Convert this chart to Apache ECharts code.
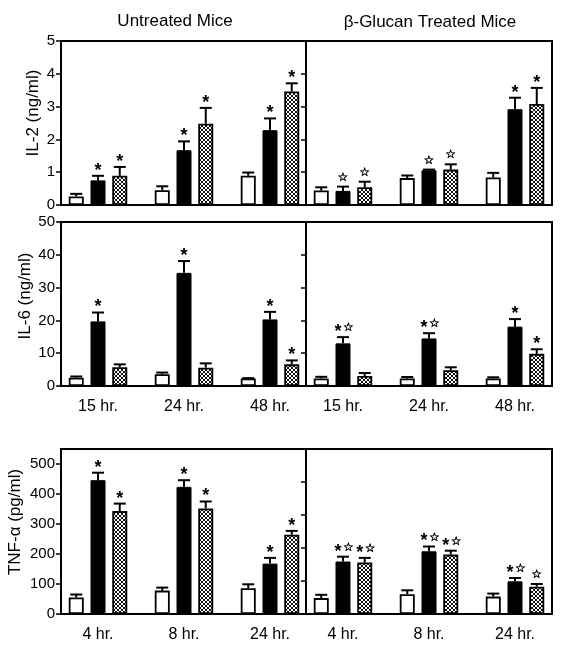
<!DOCTYPE html>
<html><head><meta charset="utf-8">
<script src="https://cdn.jsdelivr.net/npm/echarts@6/dist/echarts.min.js"></script>
<style>html,body{margin:0;padding:0;background:#fff}#c{width:564px;height:652px}</style>
</head><body><div id="c"></div>
<script>
const FONT = '"Liberation Sans", Arial, Helvetica, sans-serif';

// ---- categories & tick labels ----
const timesIL = ['15 hr.', '24 hr.', '48 hr.'];
const timesTNF = ['4 hr.', '8 hr.', '24 hr.'];
const il2Ticks = [0, 1, 2, 3, 4, 5];
const il6Ticks = [0, 10, 20, 30, 40, 50];
const tnfTicks = [0, 100, 200, 300, 400, 500];
const tnfRightTicks = [110, 220, 330, 440];
const panelTitles = ['Untreated Mice', 'β-Glucan Treated Mice'];

// ---- IL-2 (ng/ml) ----
const il2UntreatedWhite = [0.26, 0.45, 0.89];
const il2UntreatedWhiteErr = [0.08, 0.12, 0.10];
const il2UntreatedBlack = [0.75, 1.67, 2.28];
const il2UntreatedBlackErr = [0.14, 0.27, 0.36];
const il2UntreatedHatch = [0.89, 2.48, 3.46];
const il2UntreatedHatchErr = [0.27, 0.48, 0.25];
const il2GlucanWhite = [0.44, 0.82, 0.84];
const il2GlucanWhiteErr = [0.10, 0.08, 0.14];
const il2GlucanBlack = [0.43, 1.06, 2.92];
const il2GlucanBlackErr = [0.13, 0.02, 0.35];
const il2GlucanHatch = [0.54, 1.08, 3.08];
const il2GlucanHatchErr = [0.17, 0.16, 0.49];

// ---- IL-6 (ng/ml) ----
const il6UntreatedWhite = [2.5, 3.6, 2.3];
const il6UntreatedWhiteErr = [0.4, 0.5, 0.1];
const il6UntreatedBlack = [19.7, 34.5, 20.3];
const il6UntreatedBlackErr = [2.7, 3.6, 2.3];
const il6UntreatedHatch = [5.7, 5.6, 6.6];
const il6UntreatedHatchErr = [0.9, 1.3, 1.2];
const il6GlucanWhite = [2.3, 2.3, 2.3];
const il6GlucanWhiteErr = [0.5, 0.45, 0.35];
const il6GlucanBlack = [13.0, 14.5, 18.1];
const il6GlucanBlackErr = [1.9, 1.6, 2.3];
const il6GlucanHatch = [3.05, 4.8, 9.8];
const il6GlucanHatchErr = [0.9, 0.9, 1.4];

// ---- TNF-alpha (pg/ml) ----
const tnfUntreatedWhite = [55, 78, 86];
const tnfUntreatedWhiteErr = [10, 10, 13];
const tnfUntreatedBlack = [446, 424, 168];
const tnfUntreatedBlackErr = [25, 22, 19];
const tnfUntreatedHatch = [343, 352, 264];
const tnfUntreatedHatchErr = [25, 23, 13];
const tnfGlucanWhite = [53, 66, 58];
const tnfGlucanWhiteErr = [11, 13, 10];
const tnfGlucanBlack = [175, 209, 109];
const tnfGlucanBlackErr = [16, 16, 11];
const tnfGlucanHatch = [172, 198, 91];
const tnfGlucanHatchErr = [15, 13, 9];

// ---- significance marks ----
const il2UntreatedBlackSig = ['*', '*', '*'];
const il2UntreatedHatchSig = ['*', '*', '*'];
const il2GlucanBlackSig = ['☆', '☆', '*'];
const il2GlucanHatchSig = ['☆', '☆', '*'];
const il6UntreatedBlackSig = ['*', '*', '*'];
const il6UntreatedHatchSig = ['', '', '*'];
const il6GlucanBlackSig = ['*☆', '*☆', '*'];
const il6GlucanHatchSig = ['', '', '*'];
const tnfUntreatedBlackSig = ['*', '*', '*'];
const tnfUntreatedHatchSig = ['*', '*', '*'];
const tnfGlucanBlackSig = ['*☆', '*☆', '*☆'];
const tnfGlucanHatchSig = ['*☆', '*☆', '☆'];
const noSig = ['', '', ''];

// ---- layout (styles / positions) ----
const BAR_W = 15, BAR_GAP = 0.45;
const rows = [
  { top: 41, height: 164, max: 5, interval: 1, ticks: il2Ticks, rInterval: 1, rTicks: null,
    cats: timesIL, showCats: false, name: 'IL-2 (ng/ml)', nx: 33, ny: 113,
    panels: [
      { vals: [il2UntreatedWhite, il2UntreatedBlack, il2UntreatedHatch],
        errs: [il2UntreatedWhiteErr, il2UntreatedBlackErr, il2UntreatedHatchErr],
        sigs: [noSig, il2UntreatedBlackSig, il2UntreatedHatchSig] },
      { vals: [il2GlucanWhite, il2GlucanBlack, il2GlucanHatch],
        errs: [il2GlucanWhiteErr, il2GlucanBlackErr, il2GlucanHatchErr],
        sigs: [noSig, il2GlucanBlackSig, il2GlucanHatchSig] }
    ] },
  { top: 222, height: 164, max: 50, interval: 10, ticks: il6Ticks, rInterval: 10, rTicks: null,
    cats: timesIL, showCats: true, name: 'IL-6 (ng/ml)', nx: 25, ny: 296,
    panels: [
      { vals: [il6UntreatedWhite, il6UntreatedBlack, il6UntreatedHatch],
        errs: [il6UntreatedWhiteErr, il6UntreatedBlackErr, il6UntreatedHatchErr],
        sigs: [noSig, il6UntreatedBlackSig, il6UntreatedHatchSig] },
      { vals: [il6GlucanWhite, il6GlucanBlack, il6GlucanHatch],
        errs: [il6GlucanWhiteErr, il6GlucanBlackErr, il6GlucanHatchErr],
        sigs: [noSig, il6GlucanBlackSig, il6GlucanHatchSig] }
    ] },
  { top: 449, height: 165, max: 550, interval: 100, ticks: tnfTicks, rInterval: 110, rTicks: tnfRightTicks,
    cats: timesTNF, showCats: true, name: 'TNF-α (pg/ml)', nx: 15, ny: 522,
    panels: [
      { vals: [tnfUntreatedWhite, tnfUntreatedBlack, tnfUntreatedHatch],
        errs: [tnfUntreatedWhiteErr, tnfUntreatedBlackErr, tnfUntreatedHatchErr],
        sigs: [noSig, tnfUntreatedBlackSig, tnfUntreatedHatchSig] },
      { vals: [tnfGlucanWhite, tnfGlucanBlack, tnfGlucanHatch],
        errs: [tnfGlucanWhiteErr, tnfGlucanBlackErr, tnfGlucanHatchErr],
        sigs: [noSig, tnfGlucanBlackSig, tnfGlucanHatchSig] }
    ] }
];
const frameX = [{ left: 61, width: 245 }, { left: 306, width: 246 }];
const barX = [{ left: 55, width: 258 }, { left: 300, width: 258 }];

// hatch pattern
const pc = document.createElement('canvas');
pc.width = 4; pc.height = 4;
const g = pc.getContext('2d');
g.fillStyle = '#fff'; g.fillRect(0, 0, 4, 4);
g.fillStyle = '#111';
for (let k = 0; k < 4; k++) { g.fillRect(k, k, 1, 1); g.fillRect(3 - k, k, 1, 1); }
const hatch = { image: pc, repeat: 'repeat' };

const barStyles = [
  { color: '#fff', borderColor: '#000', borderWidth: 1.8 },
  { color: '#000', borderColor: '#000', borderWidth: 1 },
  { color: hatch, borderColor: '#000', borderWidth: 1.8 }
];

const grid = [], xAxis = [], yAxis = [], series = [];
rows.forEach((row, r) => {
  row.panels.forEach((pnl, s) => {
    // frame grid
    const fi = grid.length;
    grid.push({ left: frameX[s].left, width: frameX[s].width, top: row.top, height: row.height,
      show: true, borderColor: '#000', borderWidth: 2, backgroundColor: 'transparent' });
    xAxis.push({ gridIndex: fi, type: 'value', show: false, min: 0, max: 1 });
    const isLeft = s === 0;
    yAxis.push({
      gridIndex: fi, type: 'value', min: 0, max: row.max,
      interval: isLeft ? row.interval : row.rInterval,
      position: isLeft ? 'left' : 'right',
      axisLine: { show: false },
      splitLine: { show: false },
      axisTick: { show: true, inside: !isLeft, length: 5, lineStyle: { color: '#000', width: 1.5 },
        customValues: isLeft ? row.ticks : (row.rTicks || undefined) },
      axisLabel: { show: isLeft, color: '#000', fontSize: 15, fontFamily: FONT, margin: 6,
        customValues: isLeft ? row.ticks : undefined }
    });
    // bar grid
    const bi = grid.length;
    grid.push({ left: barX[s].left, width: barX[s].width, top: row.top, height: row.height, show: false });
    xAxis.push({ gridIndex: bi, type: 'category', data: row.cats,
      axisLine: { show: false }, axisTick: { show: false },
      axisLabel: { show: row.showCats, color: '#000', fontSize: 16, fontFamily: FONT, margin: 13 } });
    yAxis.push({ gridIndex: bi, type: 'value', min: 0, max: row.max, show: false });
    pnl.vals.forEach((arr, j) => {
      series.push({ type: 'bar', xAxisIndex: bi, yAxisIndex: bi, data: arr, barWidth: BAR_W,
        barGap: (BAR_GAP * 100) + '%', itemStyle: barStyles[j], z: 2, silent: true, animation: false });
    });
    const edata = [];
    pnl.vals.forEach((arr, j) => arr.forEach((v, i) => edata.push([i, v, pnl.errs[j][i], j])));
    const sigList = [];
    pnl.vals.forEach((arr, j) => arr.forEach((v, i) => sigList.push(pnl.sigs[j][i])));
    series.push({
      type: 'custom', xAxisIndex: bi, yAxisIndex: bi, data: edata, z: 3, silent: true, animation: false,
      renderItem: function (params, api) {
        const i = api.value(0), v = api.value(1), e = api.value(2), j = api.value(3);
        const dx = (j - 1) * BAR_W * (1 + BAR_GAP);
        const p0 = api.coord([i, v]);
        const p1 = api.coord([i, v + e]);
        const x = p0[0] + dx;
        const children = [
          { type: 'line', shape: { x1: x, y1: p0[1], x2: x, y2: p1[1] }, style: { stroke: '#000', lineWidth: 2 } },
          { type: 'line', shape: { x1: x - 6, y1: p1[1], x2: x + 6, y2: p1[1] }, style: { stroke: '#000', lineWidth: 2 } }
        ];
        const sig = sigList[params.dataIndex];
        if (sig) {
          const chars = Array.from(sig);
          const n = chars.length;
          chars.forEach((c, k) => {
            const cx = x + (n === 2 ? (k === 0 ? -5 : 5.5) : 0);
            if (c === '*') {
              children.push({ type: 'text', x: cx, y: p1[1] - 5,
                style: { text: '*', fill: '#000', font: 'bold 18px ' + FONT, align: 'center', verticalAlign: 'middle' } });
            } else {
              children.push({ type: 'text', x: cx, y: p1[1] - 9,
                style: { text: '☆', fill: '#000', stroke: '#000', lineWidth: 0.4, font: '12px "DejaVu Sans"', align: 'center', verticalAlign: 'middle' } });
            }
          });
        }
        return { type: 'group', children: children };
      }
    });
  });
});

const graphic = [
  { type: 'text', x: 175, y: 21, style: { text: panelTitles[0], fill: '#000', font: '17px ' + FONT, align: 'center', verticalAlign: 'middle' } },
  { type: 'text', x: 430, y: 22, style: { text: panelTitles[1], fill: '#000', font: '17px ' + FONT, align: 'center', verticalAlign: 'middle' } }
];
rows.forEach(row => {
  graphic.push({ type: 'text', x: row.nx, y: row.ny, rotation: Math.PI / 2,
    style: { text: row.name, fill: '#000', font: '17px ' + FONT, align: 'center', verticalAlign: 'middle' } });
});

const chart = echarts.init(document.getElementById('c'), null, { renderer: 'canvas' });
chart.setOption({ animation: false, backgroundColor: '#fff', grid, xAxis, yAxis, series, graphic });
</script></body></html>
